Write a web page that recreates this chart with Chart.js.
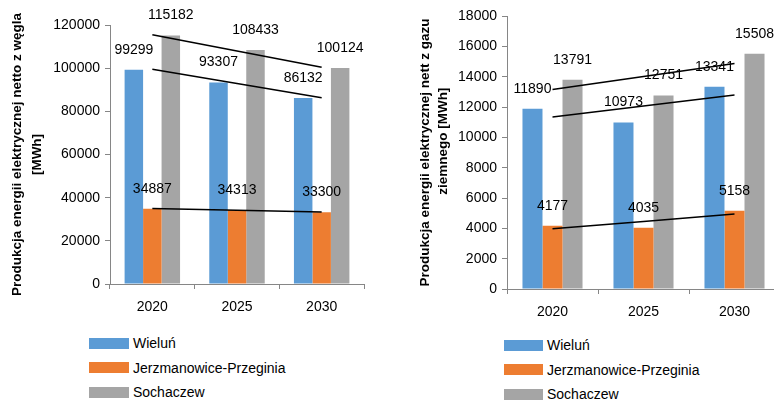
<!DOCTYPE html>
<html lang="pl">
<head>
  <meta charset="UTF-8">
  <title>Produkcja energii elektrycznej</title>
  <style>
    html, body {
      margin: 0;
      padding: 0;
      width: 774px;
      height: 401px;
      overflow: hidden;
      background: #fff;
      font-family: 'Liberation Sans', Arial, sans-serif;
    }
    .chart {
      position: absolute;
      top: 0;
    }
    .legend {
      position: absolute;
      font-size: 14px;
      color: #000;
    }
    .legend .row {
      display: flex;
      align-items: center;
      height: 24.5px;
    }
    .legend .box {
      display: inline-block;
      width: 40px;
      height: 11px;
      margin-right: 4px;
    }
  </style>
</head>
<body>
  <canvas id="coalChart" class="chart" width="390" height="320" style="left:0px"></canvas>
  <canvas id="gasChart" class="chart" width="400" height="320" style="left:390px"></canvas>
  <div id="coalLegend" class="legend" style="left:89px; top:331px"></div>
  <div id="gasLegend" class="legend" style="left:504px; top:333px"></div>

  <script src="https://cdn.jsdelivr.net/npm/chart.js"></script>
  <script>
  const years = ['2020', '2025', '2030']
  const plants = ['Wieluń', 'Jerzmanowice-Przeginia', 'Sochaczew']
  const colors = ['#5B9BD5', '#ED7D31', '#A5A5A5']

  // wegiel [MWh]
  const coalWielun = [99299, 93307, 86132]
  const coalJerzmanowice = [34887, 34313, 33300]
  const coalSochaczew = [115182, 108433, 100124]
  const coalMax = 120000
  const coalStep = 20000

  // gaz ziemny [MWh]
  const gasWielun = [11890, 10973, 13341]
  const gasJerzmanowice = [4177, 4035, 5158]
  const gasSochaczew = [13791, 12751, 15508]
  const gasMax = 18000
  const gasStep = 2000

  const FONT = "'Liberation Sans', Arial, sans-serif"
  const AXIS = '#868686'

  // linia trendu (regresja liniowa po kolejnych latach)
  function trend(values) {
    const n = values.length
    const mx = (n - 1) / 2
    const my = values.reduce((a, b) => a + b, 0) / n
    let num = 0, den = 0
    values.forEach((v, i) => { num += (i - mx) * (v - my); den += (i - mx) * (i - mx) })
    const k = num / den
    return values.map((v, i) => my + k * (i - mx))
  }

  const barLabels = {
    id: 'bar_labels',
    afterDatasetsDraw(chart) {
      const ctx = chart.ctx
      ctx.save()
      ctx.font = '14px ' + FONT
      ctx.fillStyle = '#000'
      ctx.textAlign = 'center'
      ctx.textBaseline = 'middle'
      chart.data.datasets.forEach((ds, i) => {
        if (ds.type === 'line') return
        chart.getDatasetMeta(i).data.forEach((bar, j) => {
          ctx.fillText(String(ds.data[j]), bar.x, bar.y - 20)
        })
      })
      ctx.restore()
    }
  }

  function makeChart(id, series, cfg) {
    const datasets = series.map((values, i) => ({
      label: plants[i],
      data: values,
      backgroundColor: colors[i],
      borderWidth: 0,
      categoryPercentage: cfg.catPct,
      barPercentage: 1
    }))
    series.forEach(values => {
      datasets.push({
        type: 'line',
        data: trend(values),
        borderColor: '#000',
        borderWidth: 1.5,
        pointRadius: 0,
        fill: false,
        order: -1
      })
    })
    return new Chart(document.getElementById(id), {
      type: 'bar',
      data: { labels: years, datasets },
      plugins: [barLabels],
      options: {
        responsive: false,
        animation: false,
        devicePixelRatio: 1,
        layout: { padding: cfg.padding },
        plugins: {
          legend: { display: false },
          tooltip: { enabled: false }
        },
        scales: {
          x: {
            grid: { drawOnChartArea: false, tickLength: 5, color: AXIS },
            border: { color: AXIS },
            ticks: { color: '#000', font: { family: FONT, size: 14 }, padding: 10 },
            afterFit: s => { s.height = 30 }
          },
          y: {
            min: 0,
            max: cfg.max,
            ticks: {
              stepSize: cfg.step,
              color: '#000',
              font: { family: FONT, size: 14 },
              padding: 5,
              callback: v => String(v)
            },
            grid: { drawOnChartArea: false, tickLength: 5, color: AXIS },
            border: { color: AXIS },
            title: {
              display: true,
              text: cfg.title,
              color: '#000',
              font: { family: FONT, size: 13.5, weight: 'bold', lineHeight: cfg.titleLine },
              padding: { top: cfg.titlePad, bottom: 0 }
            },
            afterFit: s => { s.width = cfg.yWidth }
          }
        }
      }
    })
  }

  makeChart('coalChart', [coalWielun, coalJerzmanowice, coalSochaczew], {
    max: coalMax, step: coalStep, catPct: 0.655,
    title: ['Produkcja energii elektrycznej netto z węgla', '[MWh]'],
    titleLine: 20 / 13.5, titlePad: 7, yWidth: 110,
    padding: { top: 25, right: 26, left: 0, bottom: 6 }
  })

  makeChart('gasChart', [gasWielun, gasJerzmanowice, gasSochaczew], {
    max: gasMax, step: gasStep, catPct: 0.66,
    title: ['Produkcja energii elektrycznej nett z gazu', '      ziemnego [MWh]'],
    titleLine: 18 / 13.5, titlePad: 26, yWidth: 117,
    padding: { top: 16, right: 10, left: 0, bottom: 1 }
  })

  function buildLegend(id, boxWidth) {
    const el = document.getElementById(id)
    plants.forEach((name, i) => {
      const row = document.createElement('div')
      row.className = 'row'
      const box = document.createElement('span')
      box.className = 'box'
      box.style.background = colors[i]
      box.style.width = boxWidth + 'px'
      const txt = document.createElement('span')
      txt.textContent = name
      row.appendChild(box)
      row.appendChild(txt)
      el.appendChild(row)
    })
  }
  buildLegend('coalLegend', 40)
  buildLegend('gasLegend', 39)
  </script>
</body>
</html>
